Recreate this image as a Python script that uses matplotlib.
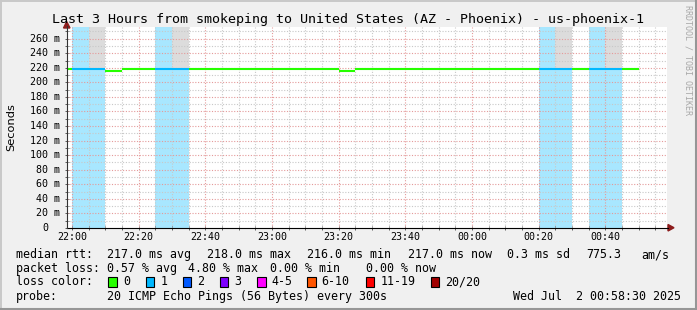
import matplotlib
matplotlib.use("Agg")
import matplotlib.pyplot as plt
import matplotlib.colors as mcolors
from matplotlib.patches import Rectangle, Polygon
from matplotlib.lines import Line2D
from matplotlib.transforms import offset_copy
import pandas as pd

# ---------------- data ----------------
title = "Last 3 Hours from smokeping to United States (AZ - Phoenix) - us-phoenix-1"
view_start = "2025-07-01 21:58:30"
view_end = "2025-07-02 00:58:30"
interval_start = ["21:55", "22:00", "22:05", "22:10", "22:15", "22:20", "22:25", "22:30",
                  "22:35", "22:40", "22:45", "22:50", "22:55", "23:00", "23:05", "23:10",
                  "23:15", "23:20", "23:25", "23:30", "23:35", "23:40", "23:45", "23:50",
                  "23:55", "00:00", "00:05", "00:10", "00:15", "00:20", "00:25", "00:30",
                  "00:35", "00:40", "00:45"]
median_ms = [218, 218, 218, 216, 218, 218, 218, 218,
             218, 218, 218, 218, 218, 218, 218, 218,
             218, 216, 218, 218, 218, 218, 218, 218,
             218, 218, 218, 218, 218, 218, 218, 218,
             218, 218, 218]
loss_pings = [0, 1, 1, 0, 0, 0, 1, 1,
              0, 0, 0, 0, 0, 0, 0, 0,
              0, 0, 0, 0, 0, 0, 0, 0,
              0, 0, 0, 0, 0, 1, 1, 0,
              1, 1, 0]
smoke_top_ms = [None, None, 290, None, None, None, None, 290,
                None, None, None, None, None, None, None, None,
                None, None, None, 220, None, None, 220, None,
                None, None, None, None, None, None, 290, None,
                None, 290, None]
x_tick_labels = ["22:00", "22:20", "22:40", "23:00", "23:20", "23:40", "00:00", "00:20", "00:40"]
y_tick_values = [0, 20, 40, 60, 80, 100, 120, 140, 160, 180, 200, 220, 240, 260]

loss_labels = ["0", "1", "2", "3", "4-5", "6-10", "11-19", "20/20"]
loss_colors = ["#26ff00", "#00b8ff", "#0059ff", "#7e00ff", "#ff00ff", "#ff5500", "#ff0000", "#a10000"]

rtt_stats = ["217.0 ms avg", "218.0 ms max", "216.0 ms min", "217.0 ms now", "0.3 ms sd", "775.3", "am/s"]
loss_stats = ["0.57 % avg", "4.80 % max", "0.00 % min", "0.00 % now"]
probe_text = "20 ICMP Echo Pings (56 Bytes) every 300s"
stamp_text = "Wed Jul  2 00:58:30 2025"

# ---------------- helpers ----------------
W, H = 697, 310
MONO = "DejaVu Sans Mono"
t0 = pd.Timestamp("2025-07-01 22:00")


def mins(ts):
    return (pd.Timestamp(ts) - t0).total_seconds() / 60.0


def hm_to_min(s):
    m = mins("2025-07-01 " + s)
    if m < -60:
        m += 24 * 60
    return m


def fx(x):
    return x / W


def fy(y):
    return 1 - y / H


def loss_color(n):
    if n == 0:
        return loss_colors[0]
    if n == 1:
        return loss_colors[1]
    if n == 2:
        return loss_colors[2]
    if n == 3:
        return loss_colors[3]
    if n <= 5:
        return loss_colors[4]
    if n <= 10:
        return loss_colors[5]
    if n <= 19:
        return loss_colors[6]
    return loss_colors[7]


def light(c, a=0.34):
    r, g, b = mcolors.to_rgb(c)
    return (1 - a + a * r, 1 - a + a * g, 1 - a + a * b)


xs = [hm_to_min(s) for s in interval_start]
x_left, x_right = mins(view_start), mins(view_end)
y_top = 276

# ---------------- figure ----------------
fig = plt.figure(figsize=(W / 100, H / 100), dpi=100, facecolor="#f0f0f0")
ax = fig.add_axes([67 / W, (H - 228) / H, 600 / W, 201 / H])
ax.set_facecolor("white")
ax.set_xlim(x_left, x_right)
ax.set_ylim(0, y_top)
for s in ax.spines.values():
    s.set_visible(False)

# minor/major ticks (marks only)
ax.set_xticks([m for m in range(0, 180, 5)])
ax.set_yticks([v for v in range(0, y_top, 10)])
ax.tick_params(axis="both", direction="inout", length=3, width=0.6, color="#444444",
               labelbottom=False, labelleft=False)

# loss background bars
for x, n in zip(xs, loss_pings):
    if n > 0:
        ax.axvspan(x, x + 5, color=light(loss_color(n)), lw=0, zorder=1)

# smoke
for x, m, top in zip(xs, median_ms, smoke_top_ms):
    if top is not None:
        ax.fill_between([x, x + 5], [m, m], [top, top], color="#dcdcdc", lw=0, zorder=1.5)

# grid
dots = (0, (1, 1.5))
for mnt in range(0, 180, 5):
    major = mnt % 20 == 0
    ax.axvline(mnt, color="#e49a9a" if major else "#c8c8c8", lw=0.8, ls=dots, zorder=2)
for v in range(10, y_top, 10):
    major = v % 20 == 0
    ax.axhline(v, color="#e49a9a" if major else "#c8c8c8", lw=0.8, ls=dots, zorder=2)

# median line
ax.hlines(median_ms, xs, [x + 5 for x in xs], colors=[loss_color(n) for n in loss_pings],
          lw=1.5, zorder=3)

# tick labels
ytr = offset_copy(ax.get_yaxis_transform(), fig=fig, x=-7, y=0, units="dots")
for v in y_tick_values:
    lab = f"{v} m" if v else "0"
    t = ytr if v else offset_copy(ax.get_yaxis_transform(), fig=fig, x=-19, y=0, units="dots")
    ax.text(0, v, lab, transform=t, ha="right", va="center", family=MONO, fontsize=7.2)
xtr = offset_copy(ax.get_xaxis_transform(), fig=fig, x=0, y=-9.5, units="dots")
for lab in x_tick_labels:
    ax.text(hm_to_min(lab), 0, lab, transform=xtr, ha="center", va="center",
            family=MONO, fontsize=7.2)

# axis lines and arrows
fig.add_artist(Line2D([fx(67), fx(668)], [fy(227.7), fy(227.7)], color="black", lw=0.8))
fig.add_artist(Line2D([fx(66.6), fx(66.6)], [fy(228), fy(26)], color="#333333", lw=0.8))
arrow_c = "#8c1c1c"
fig.add_artist(Polygon([[fx(668), fy(224.5)], [fx(668), fy(231)], [fx(674), fy(227.7)]],
                       closed=True, color=arrow_c, transform=fig.transFigure))
fig.add_artist(Polygon([[fx(63.5), fy(28)], [fx(70), fy(28)], [fx(66.7), fy(21.5)]],
                       closed=True, color=arrow_c, transform=fig.transFigure))

# titles
fig.text(fx(348.5), fy(19), title, ha="center", va="center", family=MONO, fontsize=9.6)
fig.text(fx(11), fy(127), "Seconds", rotation=90, ha="center", va="center",
         family="DejaVu Sans", fontsize=8.2)
fig.text(fx(688), fy(60), "RRDTOOL / TOBI OETIKER", rotation=270, ha="center", va="center",
         family=MONO, fontsize=6, color="#a8a8a8")

# legend
LF = 8.4
row_y = [254.7, 268.7, 281.7, 296.7]
fig.text(fx(16), fy(row_y[0]), "median rtt:", ha="left", va="center", family=MONO, fontsize=LF)
for s, x in zip(rtt_stats, [107.3, 207.3, 306.7, 407.7, 506.7, 586.7, 641.7]):
    fig.text(fx(x), fy(row_y[0]), s, ha="left", va="center", family=MONO, fontsize=LF)
fig.text(fx(16), fy(row_y[1]), "packet loss:", ha="left", va="center", family=MONO, fontsize=LF)
for s, x in zip(loss_stats, [107.3, 188.3, 270.0, 365.7]):
    fig.text(fx(x), fy(row_y[1]), s, ha="left", va="center", family=MONO, fontsize=LF)
fig.text(fx(16), fy(row_y[2]), "loss color:", ha="left", va="center", family=MONO, fontsize=LF)
box_x = [108.3, 145.7, 182.7, 220.0, 257.0, 307.0, 365.7, 430.7]
for lab, c, bx in zip(loss_labels, loss_colors, box_x):
    fig.add_artist(Rectangle((fx(bx), fy(row_y[2] + 5)), 8.5 / W, 10 / H, facecolor=c,
                             edgecolor="black", lw=0.8, transform=fig.transFigure))
    fig.text(fx(bx + 14.7), fy(row_y[2]), lab, ha="left", va="center", family=MONO, fontsize=LF)
fig.text(fx(16), fy(row_y[3]), "probe:", ha="left", va="center", family=MONO, fontsize=LF)
fig.text(fx(107.3), fy(row_y[3]), probe_text, ha="left", va="center", family=MONO, fontsize=LF)
fig.text(fx(513.3), fy(row_y[3]), stamp_text, ha="left", va="center", family=MONO, fontsize=LF)

# 3D frame
fig.add_artist(Line2D([0, 1], [fy(0.75), fy(0.75)], color="#c8c8c8", lw=1.4))
fig.add_artist(Line2D([fx(0.75), fx(0.75)], [0, 1], color="#c8c8c8", lw=1.4))
fig.add_artist(Line2D([0, 1], [fy(H - 1), fy(H - 1)], color="#969696", lw=1.5))
fig.add_artist(Line2D([fx(W - 1), fx(W - 1)], [0, 1], color="#969696", lw=1.5))

fig.savefig("out.png", dpi=100, facecolor=fig.get_facecolor())
